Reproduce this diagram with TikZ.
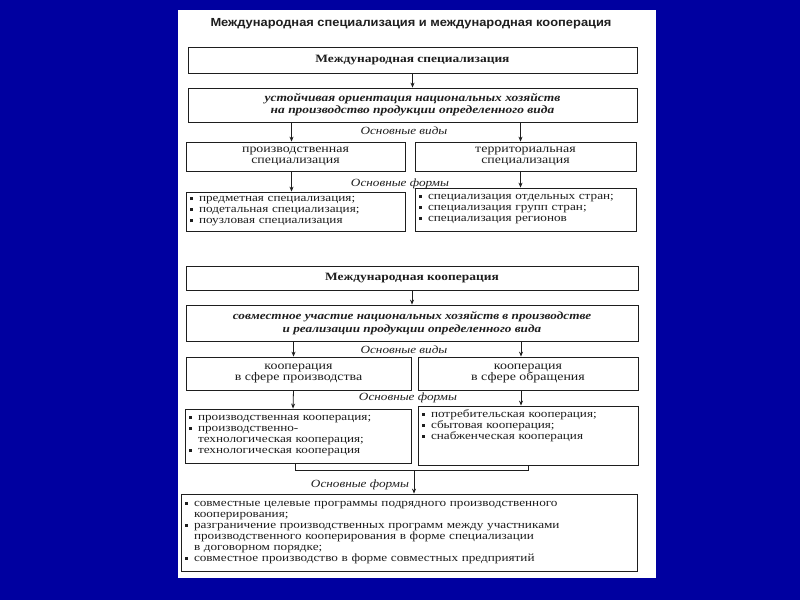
\documentclass[tikz,border=0pt]{standalone}
\usepackage{fontspec}
\setmainfont[FakeStretch=1.2]{Liberation Serif}
\newfontfamily\titlefont[FakeStretch=1.1]{Liberation Sans}
\usetikzlibrary{arrows.meta}
\definecolor{bgblue}{RGB}{0,0,160}
\definecolor{ink}{RGB}{30,30,30}
\newcommand\sqb{\makebox[9pt][l]{\rule[1.7pt]{2.8pt}{2.8pt}}}
\newcommand\ind{\hspace*{9pt}}
\tikzset{
  box/.style={draw=ink, line width=0.8pt, inner xsep=4pt, inner ysep=0pt, align=center, text=ink,
              font=\fontsize{11.6}{11.5}\selectfont},
  listbox/.style={box, align=left, font=\fontsize{11}{11}\selectfont},
  lbl/.style={text=ink, inner sep=0pt, font=\fontsize{11}{11}\selectfont\itshape},
  arr/.style={draw=ink, line width=0.8pt, -{Stealth[length=5pt,width=4pt]}},
  conn/.style={draw=ink, line width=0.8pt}
}
\begin{document}
\begin{tikzpicture}[x=1pt,y=-1pt]
\useasboundingbox (0,0) rectangle (800,600);
\fill[bgblue] (0,0) rectangle (800,600);
\fill[white] (178,10) rectangle (656,578);

\node[text=ink, inner sep=0pt, font=\titlefont\bfseries\fontsize{11.7}{12}\selectfont] (title) at (411,24)
  {Международная специализация и международная кооперация};

% section 1
\node[box, minimum width=449pt, minimum height=26pt, font=\fontsize{11.2}{11}\selectfont\bfseries] (A) at (412.5,60)
  {Международная специализация};
\node[box, minimum width=449pt, minimum height=34pt, font=\fontsize{11.2}{12}\selectfont\bfseries\itshape] (B) at (412.5,105)
  {устойчивая ориентация национальных хозяйств\\на производство продукции определенного вида};
\node[box, minimum width=219pt, minimum height=29pt] (C1) at (295.5,156.5)
  {производственная\\специализация};
\node[box, minimum width=221pt, minimum height=29pt] (C2) at (525.5,156.5)
  {территориальная\\специализация};
\node[lbl] (v1) at (404,131) {Основные виды};
\node[lbl] (f1) at (400,183.5) {Основные формы};
\node[listbox, text width=211pt, minimum height=39pt] (D1) at (295.5,211.5)
  {\sqb предметная специализация;\\\sqb подетальная специализация;\\\sqb поузловая специализация};
\node[listbox, text width=213pt, minimum height=43pt] (D2) at (525.5,209.5)
  {\sqb специализация отдельных стран;\\\sqb специализация групп стран;\\\sqb специализация регионов};

\draw[arr] (A.south) -- (B.north);
\draw[arr] ([xshift=-4pt]C1.north |- B.south) -- ([xshift=-4pt]C1.north);
\draw[arr] ([xshift=-5pt]C2.north |- B.south) -- ([xshift=-5pt]C2.north);
\draw[arr] ([xshift=-4pt]C1.south) -- ([xshift=-4pt]D1.north);
\draw[arr] ([xshift=-5pt]C2.south) -- ([xshift=-5pt]D2.north);

% section 2
\node[box, minimum width=452pt, minimum height=24pt, font=\fontsize{11.2}{11}\selectfont\bfseries] (E) at (412,278)
  {Международная кооперация};
\node[box, minimum width=452pt, minimum height=36pt, font=\fontsize{11}{12.5}\selectfont\bfseries\itshape] (F) at (412,323)
  {совместное участие национальных хозяйств в производстве\\и реализации продукции определенного вида};
\node[box, minimum width=225pt, minimum height=33pt] (G1) at (298.5,373.5)
  {кооперация\\в сфере производства};
\node[box, minimum width=220pt, minimum height=33pt] (G2) at (528,373.5)
  {кооперация\\в сфере обращения};
\node[lbl] (v2) at (404,349.5) {Основные виды};
\node[lbl] (f2) at (408,397.5) {Основные формы};
\node[listbox, text width=218pt, minimum height=54pt] (H1) at (298,436)
  {\sqb производственная кооперация;\\\sqb производственно-\\\ind технологическая кооперация;\\\sqb технологическая кооперация};
\node[listbox, text width=212pt, minimum height=59pt] (H2) at (528,435.5)
  {\sqb потребительская кооперация;\\\sqb сбытовая кооперация;\\\sqb снабженческая кооперация\\\mbox{}\\\mbox{}};
\node[lbl] (f3) at (360,485) {Основные формы};
\node[listbox, text width=448pt, minimum height=77pt] (I) at (409,532.5)
  {\sqb совместные целевые программы подрядного производственного\\\ind кооперирования;\\\sqb разграничение производственных программ между участниками\\\ind производственного кооперирования в форме специализации\\\ind в договорном порядке;\\\sqb совместное производство в форме совместных предприятий};

\draw[arr] (E.south) -- (F.north);
\draw[arr] ([xshift=-5pt]G1.north |- F.south) -- ([xshift=-5pt]G1.north);
\draw[arr] ([xshift=-7pt]G2.north |- F.south) -- ([xshift=-7pt]G2.north);
\draw[arr] ([xshift=-5pt]G1.south) -- ([xshift=-5pt]H1.north);
\draw[arr] ([xshift=-7pt]G2.south) -- ([xshift=-7pt]H2.north);
\coordinate (j) at (414,470.5);
\draw[conn] ([xshift=-3pt]H1.south) |- (j) -| (H2.south);
\draw[arr] (j) -- (I.north -| j);
\end{tikzpicture}
\end{document}
